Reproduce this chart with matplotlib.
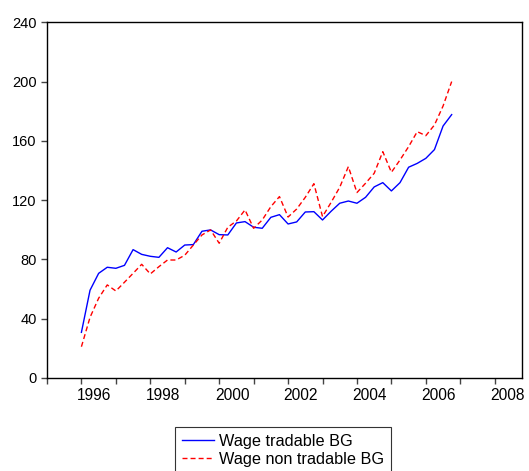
import numpy as np
import matplotlib
matplotlib.use("Agg")
import matplotlib.pyplot as plt
from matplotlib.ticker import FixedLocator, NullFormatter, FixedFormatter

# quarterly data 1996Q1 - 2006Q4
wage_tradable = [30.8, 59.2, 70.6, 74.7,
                 74.0, 76.0, 86.6, 83.4,
                 82.1, 81.4, 87.9, 85.0,
                 89.7, 90.0, 99.0, 99.9,
                 96.7, 96.5, 104.6, 105.5,
                 101.7, 101.0, 108.4, 110.2,
                 103.9, 105.3, 112.0, 112.2,
                 106.6, 112.5, 117.9, 119.4,
                 117.9, 121.9, 128.9, 131.8,
                 126.2, 131.8, 142.2, 144.8,
                 148.2, 154.1, 170.0, 177.7]
wage_non_tradable = [21.1, 40.9, 53.8, 62.8,
                     58.7, 64.6, 70.6, 76.7,
                     70.2, 75.1, 79.6, 79.6,
                     82.8, 89.7, 96.5, 99.9,
                     90.9, 101.7, 105.9, 113.4,
                     101.0, 106.6, 115.6, 122.4,
                     108.6, 114.0, 121.9, 131.1,
                     108.9, 118.5, 128.7, 142.6,
                     125.1, 131.4, 138.1, 152.7,
                     138.8, 147.1, 156.1, 166.2,
                     163.5, 170.7, 183.5, 200.0]
years = list(range(1996, 2007))
tick_years = list(range(1995, 2009))
label_years = list(range(1996, 2009, 2))

t = np.array([y + q / 4 for y in years for q in range(4)])

plt.rcParams['font.family'] = ['Liberation Sans', 'DejaVu Sans']
plt.rcParams['font.size'] = 10.5

fig = plt.figure(figsize=(5.29, 4.71), dpi=100)
ax = fig.add_axes([0.0888, 0.1975, 0.8985, 0.7552])

l1, = ax.plot(t, wage_tradable, color='#0000ff', lw=1.0, label='Wage tradable BG')
l2, = ax.plot(t, wage_non_tradable, color='#ff0000', lw=1.0, linestyle=(0, (3.6, 2.2)),
              label='Wage non tradable BG')

ax.set_xlim(1995, 2008.8)
ax.set_ylim(0, 240)
ax.set_yticks(range(0, 241, 40))

ax.xaxis.set_major_locator(FixedLocator(tick_years))
ax.xaxis.set_major_formatter(NullFormatter())
ax.xaxis.set_minor_locator(FixedLocator([y + 0.375 for y in label_years]))
ax.xaxis.set_minor_formatter(FixedFormatter([str(y) for y in label_years]))
ax.tick_params(axis='x', which='major', direction='out', length=4.3, width=1, color='#444444')
ax.tick_params(axis='x', which='minor', length=0, pad=7, labelsize=11.2)
ax.tick_params(axis='y', direction='out', length=4.3, width=1, color='#444444', pad=3)

for s in ax.spines.values():
    s.set_linewidth(1.0)
    s.set_color('black')

leg = fig.legend(handles=[l1, l2], loc='upper left', bbox_to_anchor=(0.331, 0.0928),
                 frameon=True, fancybox=False, edgecolor='#333333', framealpha=1,
                 borderaxespad=0, handlelength=1.97, handletextpad=0.3,
                 borderpad=0.42, labelspacing=0.17, fontsize=11.7)
leg.get_frame().set_linewidth(0.8)

fig.savefig('out.png', dpi=100)
